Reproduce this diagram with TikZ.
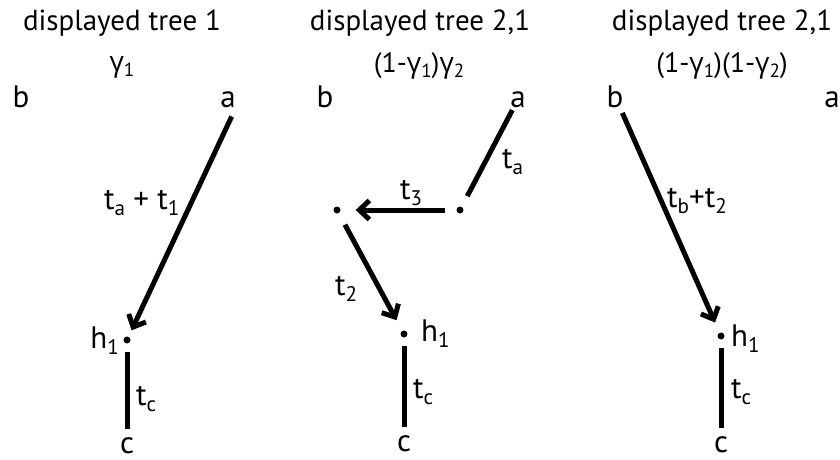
\documentclass[tikz,border=0pt]{standalone}
\usepackage{fontspec}
\usepackage{graphicx}
\setmainfont{PT Sans}
\newfontfamily\gfont{Open Sans}
\usetikzlibrary{arrows.meta}
\newcommand{\gam}{{\gfont γ}}
\newcommand{\sbs}[1]{\raisebox{-0.2em}{\scalebox{0.68}{#1}}}
\begin{document}
\begin{tikzpicture}[x=1pt,y=-1pt,
  lbl/.style={inner sep=0pt, font=\fontsize{31}{32}\selectfont, anchor=base},
  lblw/.style={lbl, anchor=base west},
  ttl/.style={inner sep=0pt, font=\fontsize{29}{30}\selectfont, anchor=base},
  gl/.style={inner sep=0pt, font=\fontsize{28}{30}\selectfont, anchor=base},
  edge/.style={line width=5pt},
  arr/.style={edge, -{Straight Barb[length=10pt,width=19pt]}},
  dot/.style={circle, fill, inner sep=0pt, minimum size=7pt}]
\useasboundingbox (0,0) rectangle (840,460);
% panel 1
\node[ttl] (t1) at (122,31) {displayed tree 1};
\node[gl] (g1) at (122,71) {\gam\sbs{1}};
\node[lbl] (b1) at (21,107) {b};
\node[lbl] (a1) at (228,107) {a};
\node[dot] (h1) at (127,340) {};
\node[lbl, anchor=base east] (h1l) at (119,348) {h\sbs{1}};
\node[lbl] (c1) at (127,453) {c};
\node[lblw] (l1) at (104,209) {t\sbs{a} + t\sbs{1}};
\node[lblw] (tc1) at (136,405) {t\sbs{c}};
\draw[arr, shorten <=10pt, shorten >=7pt] (a1.south east) -- (h1);
\draw[edge, shorten <=8pt, shorten >=8pt] (h1) -- (c1);
% panel 2
\node[ttl] (t2) at (420,31) {displayed tree 2,1};
\node[gl] (g2) at (419,72) {(1-\gam\sbs{1})\gam\sbs{2}};
\node[lbl] (b2) at (325,107) {b};
\node[lbl] (a2) at (518,107) {a};
\node[dot] (r2) at (460,210) {};
\node[dot] (l2) at (337,210) {};
\node[dot] (h2) at (404,334) {};
\node[lbl, anchor=base west] (h2l) at (421,341) {h\sbs{1}};
\node[lbl] (c2) at (404,451) {c};
\node[lblw] (ta2) at (502,168) {t\sbs{a}};
\node[lblw] (t32) at (400,199) {t\sbs{3}};
\node[lblw] (t22) at (335,295) {t\sbs{2}};
\node[lblw] (tc2) at (413,398) {t\sbs{c}};
\draw[edge, shorten <=3pt, shorten >=12pt] (a2) -- (r2);
\draw[arr, shorten <=11pt, shorten >=15pt] (r2) -- (l2);
\draw[arr, shorten <=13pt, shorten >=12pt] (l2) -- (h2);
\draw[edge, shorten <=8pt, shorten >=8pt] (h2) -- (c2);
% panel 3
\node[ttl] (t3) at (722,31) {displayed tree 2,1};
\node[gl] (g3) at (722,72) {(1-\gam\sbs{1})(1-\gam\sbs{2})};
\node[lbl] (b3) at (615,107) {b};
\node[lbl] (a3) at (832,107) {a};
\node[dot] (h3) at (721,336) {};
\node[lbl, anchor=base west] (h3l) at (731,346) {h\sbs{1}};
\node[lbl] (c3) at (721,452) {c};
\node[lblw] (l3) at (667,207) {t\sbs{b}+t\sbs{2}};
\node[lblw] (tc3) at (731,398) {t\sbs{c}};
\draw[arr, shorten <=6pt, shorten >=11pt] (b3) -- (h3);
\draw[edge, shorten <=8pt, shorten >=8pt] (h3) -- (c3);
\end{tikzpicture}
\end{document}
